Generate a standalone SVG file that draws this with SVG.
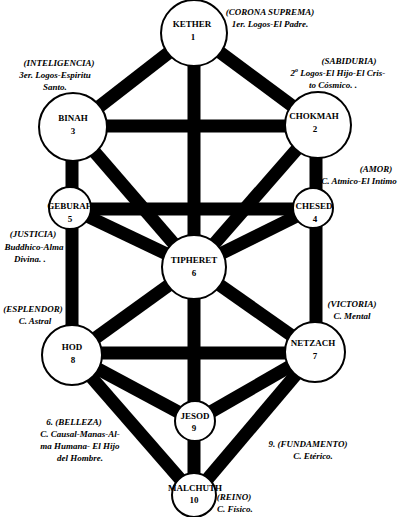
<svg xmlns="http://www.w3.org/2000/svg" width="400" height="517" viewBox="0 0 400 517">
<style>
.bar{stroke:#000;stroke-width:13;stroke-linecap:butt;fill:none}
.node circle{fill:#fff;stroke:#000;stroke-width:2}
.nm{font-family:"Liberation Serif","Times New Roman",serif;font-weight:bold;font-size:9px;text-anchor:middle;fill:#000}
.lb{font-family:"Liberation Serif","Times New Roman",serif;font-style:italic;font-weight:bold;font-size:9px;text-anchor:middle;fill:#000}
</style>
<rect width="400" height="517" fill="#fff"/>
<g id="connectors">
<line class="bar" x1="194" y1="33" x2="73" y2="127"/>
<line class="bar" x1="194" y1="33" x2="318" y2="125"/>
<line class="bar" x1="194" y1="33" x2="194" y2="495"/>
<line class="bar" x1="73" y1="126" x2="318" y2="126"/>
<line class="bar" x1="72" y1="127" x2="72" y2="355"/>
<line class="bar" x1="316" y1="125" x2="316" y2="352"/>
<line class="bar" x1="73" y1="127" x2="194" y2="267"/>
<line class="bar" x1="318" y1="125" x2="194" y2="267"/>
<line class="bar" x1="70" y1="209" x2="313" y2="209"/>
<line class="bar" x1="70" y1="208" x2="194" y2="267"/>
<line class="bar" x1="313" y1="208" x2="194" y2="267"/>
<line class="bar" x1="72" y1="355" x2="194" y2="267"/>
<line class="bar" x1="315" y1="352" x2="194" y2="267"/>
<line class="bar" x1="72" y1="353" x2="315" y2="353"/>
<line class="bar" x1="72" y1="355" x2="195" y2="421"/>
<line class="bar" x1="315" y1="352" x2="195" y2="421"/>
<line class="bar" x1="72" y1="355" x2="194" y2="495"/>
<line class="bar" x1="315" y1="352" x2="194" y2="495"/>
</g>
<g id="kether" class="node"><circle cx="194" cy="33" r="33"/><text class="nm" x="192" y="27">KETHER</text><text class="nm" x="193" y="40">1</text></g>
<g id="binah" class="node"><circle cx="73" cy="127" r="34"/><text class="nm" x="73" y="121">BINAH</text><text class="nm" x="73" y="134">3</text></g>
<g id="chokmah" class="node"><circle cx="318" cy="125" r="33"/><text class="nm" x="314" y="119" font-size="8.5">CHOKMAH</text><text class="nm" x="315" y="132">2</text></g>
<g id="geburah" class="node"><circle cx="70" cy="208" r="21"/><text class="nm" x="70" y="209" font-size="8.5">GEBURAH</text><text class="nm" x="70" y="222">5</text></g>
<g id="chesed" class="node"><circle cx="313" cy="208" r="20"/><text class="nm" x="314" y="209" font-size="8.5">CHESED</text><text class="nm" x="315" y="222">4</text></g>
<g id="tiphereth" class="node"><circle cx="194" cy="267" r="32"/><text class="nm" x="194" y="263">TIPHERET</text><text class="nm" x="194" y="276">6</text></g>
<g id="hod" class="node"><circle cx="72" cy="355" r="30"/><text class="nm" x="72" y="350">HOD</text><text class="nm" x="73" y="363">8</text></g>
<g id="netzach" class="node"><circle cx="315" cy="352" r="30"/><text class="nm" x="313" y="346" font-size="8.5">NETZACH</text><text class="nm" x="315" y="359">7</text></g>
<g id="jesod" class="node"><circle cx="195" cy="421" r="20"/><text class="nm" x="195" y="419">JESOD</text><text class="nm" x="194" y="431">9</text></g>
<g id="malchuth" class="node"><circle cx="194" cy="495" r="22"/><text class="nm" x="195" y="491" font-size="8.5">MALCHUTH</text><text class="nm" x="194" y="503">10</text></g>
<g id="labels">
<text class="lb" x="270" y="15">(CORONA SUPREMA)</text>
<text class="lb" x="270" y="27">1er. Logos-El Padre.</text>
<text class="lb" x="349" y="64">(SABIDURIA)</text>
<text class="lb" x="338" y="76">2<tspan font-size="6" dy="-4">o</tspan><tspan dy="4"> Logos-El Hijo-El Cris-</tspan></text>
<text class="lb" x="333" y="88">to Cósmico. .</text>
<text class="lb" x="59" y="66">(INTELIGENCIA)</text>
<text class="lb" x="55" y="78">3er. Logos-Espiritu</text>
<text class="lb" x="55" y="90">Santo.</text>
<text class="lb" x="33" y="237">(JUSTICIA)</text>
<text class="lb" x="34" y="250">Buddhico-Alma</text>
<text class="lb" x="30" y="262">Divina. .</text>
<text class="lb" x="376" y="172">(AMOR)</text>
<text class="lb" x="359" y="184">C. Atmico-El Intimo</text>
<text class="lb" x="33" y="312">(ESPLENDOR)</text>
<text class="lb" x="35" y="324">C. Astral</text>
<text class="lb" x="352" y="307">(VICTORIA)</text>
<text class="lb" x="352" y="319">C. Mental</text>
<text class="lb" x="74" y="425">6.  (BELLEZA)</text>
<text class="lb" x="80" y="437">C. Causal-Manas-Al-</text>
<text class="lb" x="80" y="449">ma Humana- El Hijo</text>
<text class="lb" x="80" y="461">del Hombre.</text>
<text class="lb" x="308" y="447">9.  (FUNDAMENTO)</text>
<text class="lb" x="313" y="459">C. Etérico.</text>
<text class="lb" x="234" y="500">(REINO)</text>
<text class="lb" x="235" y="512">C. Físico.</text>
</g>
</svg>
